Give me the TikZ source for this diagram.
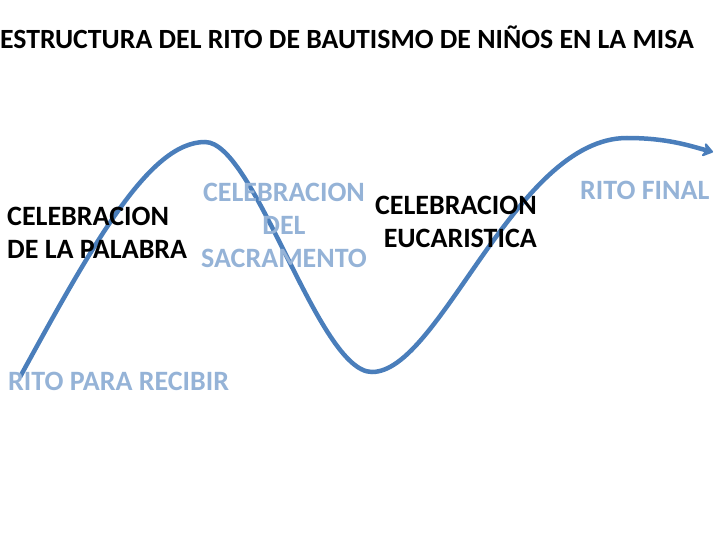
\documentclass[tikz,border=0pt]{standalone}
\usepackage{fontspec}
\setmainfont{Carlito}
\usetikzlibrary{arrows.meta}
\definecolor{RitoLine}{HTML}{4A7EBB}
\definecolor{RitoLight}{HTML}{95B3D7}
\tikzset{
  etapa/.style={font=\bfseries\fontsize{28}{33}\selectfont,align=center,inner sep=0pt},
  etapaclara/.style={etapa,text=RitoLight},
}

\begin{document}
\begin{tikzpicture}[x=1pt,y=-1pt]
    \useasboundingbox (0,0) rectangle (720,540);
    \node[font=\bfseries\fontsize{27.8}{30}\selectfont,inner sep=0pt] (title) at (347,37)
      {ESTRUCTURA DEL RITO DE BAUTISMO DE NIÑOS EN LA MISA};
    % the path of the rite
    \coordinate (inicio) at (20,377);
    \coordinate (cima) at (205,142);
    \coordinate (valle) at (372,372);
    \coordinate (alto) at (627,138);
    \coordinate (fin) at (713,152);
    \draw[RitoLine,line width=4.5pt,-{Stealth[length=12pt,width=17pt,round]}]
      (inicio) .. controls (95,240) and (150,142) .. (cima)
      .. controls (255,142) and (318,372) .. (valle)
      .. controls (440,372) and (515,138) .. (alto)
      .. controls (668,138) and (690,146) .. (fin);
    \node[etapa,align=left,anchor=west] (palabra) at (7,233) {CELEBRACION\\DE LA PALABRA};
    \node[etapaclara] (sacramento) at (284,225) {CELEBRACION\\DEL\\SACRAMENTO};
    \node[etapa,align=right,anchor=east] (eucaristia) at (537,222) {CELEBRACION\\EUCARISTICA};
    \node[etapaclara,anchor=west] (ritofinal) at (580,190) {RITO FINAL};
    \node[etapaclara,anchor=west] (recibir) at (8,381) {RITO PARA RECIBIR};
  \end{tikzpicture}
\end{document}
